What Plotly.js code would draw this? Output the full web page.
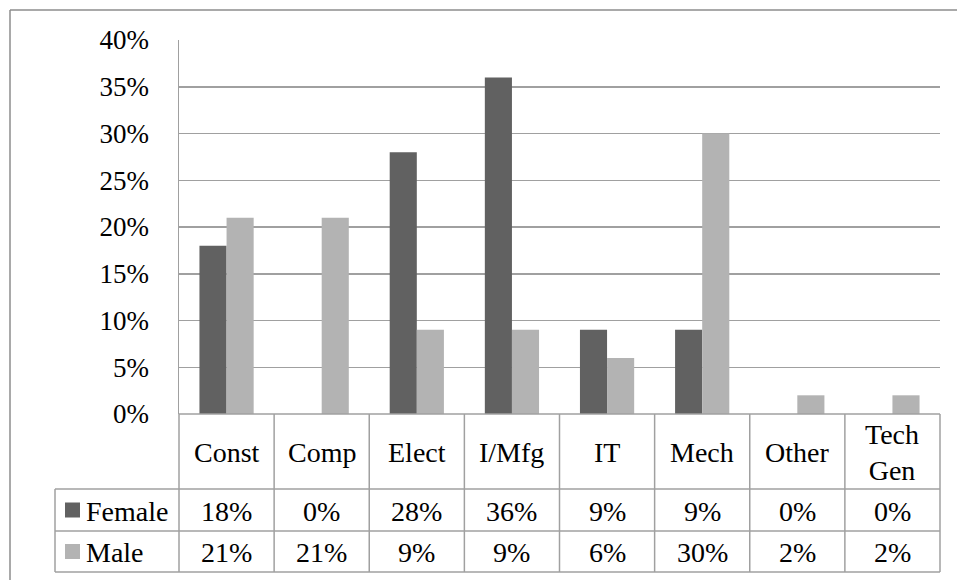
<!DOCTYPE html>
<html>
<head>
<meta charset="utf-8">
<script src="https://cdn.plot.ly/plotly-3.0.1.min.js"></script>
<style>html,body{margin:0;padding:0;background:#fff;}#chart{width:957px;height:580px;}</style>
</head>
<body>
<div id="chart"></div>
<script>
const categories = ["Const", "Comp", "Elect", "I/Mfg", "IT", "Mech", "Other", "Tech Gen"];
const headerLabels = ["Const", "Comp", "Elect", "I/Mfg", "IT", "Mech", "Other", "Tech<br>Gen"];
const seriesNames = ["Female", "Male"];
const femaleValues = [0.18, 0.00, 0.28, 0.36, 0.09, 0.09, 0.00, 0.00];
const maleValues = [0.21, 0.21, 0.09, 0.09, 0.06, 0.30, 0.02, 0.02];
const yTicks = [0, 0.05, 0.10, 0.15, 0.20, 0.25, 0.30, 0.35, 0.40];

const FONT = "'Liberation Serif', 'Times New Roman', 'DejaVu Serif', serif";
const colors = ["#616161", "#b3b3b3"];
const lineColor = "#a0a0a0";

// layout geometry (pixels)
const W = 957, H = 580;
const L = 179, R = 940, T = 40, B = 414;
const pw = R - L, ph = B - T;
const px = x => (x - L) / pw;
const py = y => (B - y) / ph;
const headerBottom = 489, femaleBottom = 531, maleBottom = 572, legendLeft = 55;

const pct = v => Math.round(v * 100) + "%";

const traces = [
  {type: "bar", name: seriesNames[0], x: categories, y: femaleValues, marker: {color: colors[0]}, hoverinfo: "none"},
  {type: "bar", name: seriesNames[1], x: categories, y: maleValues, marker: {color: colors[1]}, hoverinfo: "none"}
];

const shapes = [];
const lineStyle = {color: lineColor, width: 1.5};
// outer border (top and left)
shapes.push({type: "line", xref: "paper", yref: "paper", x0: px(10), x1: px(W + 5), y0: py(10), y1: py(10), line: {color: "#8c8c8c", width: 1.5}});
shapes.push({type: "line", xref: "paper", yref: "paper", x0: px(10), x1: px(10), y0: py(10), y1: py(H + 5), line: {color: "#8c8c8c", width: 1.5}});
// table vertical lines
const n = categories.length;
for (let k = 0; k <= n; k++) {
  shapes.push({type: "line", xref: "paper", yref: "paper", x0: k / n, x1: k / n, y0: 0, y1: py(maleBottom), line: lineStyle});
}
shapes.push({type: "line", xref: "paper", yref: "paper", x0: px(legendLeft), x1: px(legendLeft), y0: py(headerBottom), y1: py(maleBottom), line: lineStyle});
// table horizontal lines
[headerBottom, femaleBottom, maleBottom].forEach(yy => {
  shapes.push({type: "line", xref: "paper", yref: "paper", x0: px(legendLeft), x1: 1, y0: py(yy), y1: py(yy), line: lineStyle});
});
shapes.push({type: "line", xref: "paper", yref: "paper", x0: 0, x1: 1, y0: 0, y1: 0, line: lineStyle});
// legend keys
const rowCenters = [(headerBottom + femaleBottom) / 2, (femaleBottom + maleBottom) / 2];
rowCenters.forEach((cy, i) => {
  shapes.push({type: "rect", xref: "paper", yref: "paper", x0: px(65), x1: px(80), y0: py(cy + 7.5), y1: py(cy - 7.5), fillcolor: colors[i], line: {width: 0}});
});

const annotations = [];
const txt = (x, xref, y, text, xanchor) => ({x, xref, y, yref: "paper", text, showarrow: false, xanchor: xanchor || "center", yanchor: "middle", font: {family: FONT, size: 28, color: "#000"}});
headerLabels.forEach((c, i) => {
  annotations.push(txt(categories[i], "x", py((B + headerBottom) / 2 + 1), c));
});
[femaleValues, maleValues].forEach((vals, s) => {
  vals.forEach((v, i) => annotations.push(txt(categories[i], "x", py(rowCenters[s] + 1), pct(v))));
  annotations.push(txt(px(84), "paper", py(rowCenters[s] + 1), seriesNames[s], "left"));
});

const layout = {
  width: W, height: H,
  margin: {l: L, r: W - R, t: T, b: H - B, pad: 0},
  paper_bgcolor: "#fff", plot_bgcolor: "#fff",
  showlegend: false,
  barmode: "group", bargap: 0.43, bargroupgap: 0,
  font: {family: FONT, size: 28, color: "#000"},
  xaxis: {type: "category", showticklabels: false, ticks: "", showgrid: false, zeroline: false, showline: false, range: [-0.5, n - 0.5], fixedrange: true},
  yaxis: {range: [0, 0.4], tickvals: yTicks, ticktext: yTicks.map(pct), ticks: "", ticklabelstandoff: 23,
          showgrid: true, gridcolor: lineColor, gridwidth: 1.5, zeroline: false, showline: true, linecolor: lineColor, linewidth: 1.5,
          tickfont: {family: FONT, size: 27, color: "#000"}, fixedrange: true},
  shapes, annotations
};

Plotly.newPlot("chart", traces, layout, {displayModeBar: false, staticPlot: true});
</script>
</body>
</html>
